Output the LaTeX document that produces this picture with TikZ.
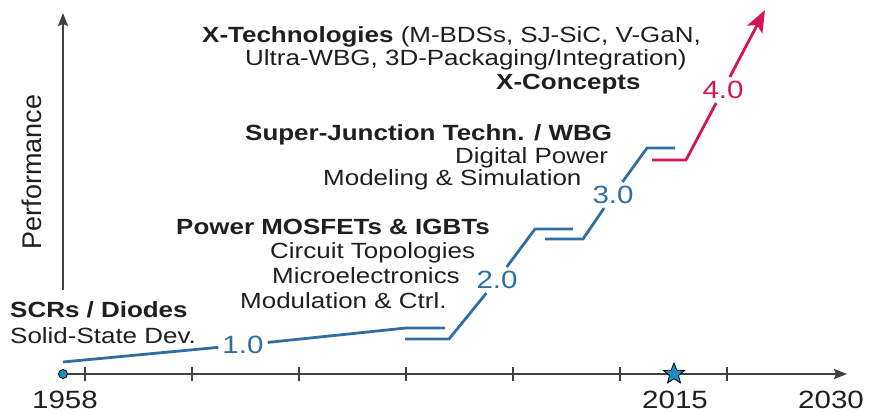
\documentclass[tikz,border=0pt]{standalone}
\usepackage{fontspec}
\setmainfont{Liberation Sans}[FakeStretch=1.18]
\newfontfamily\perffont{Liberation Sans}
\usetikzlibrary{arrows.meta,shapes.geometric}

\definecolor{genblue}{HTML}{2F6EA5}
\definecolor{genred}{HTML}{D4145A}
\definecolor{markblue}{HTML}{1F8DC4}
\definecolor{axisgray}{HTML}{404040}

\begin{document}
\begin{tikzpicture}[
  x=1pt,y=-1pt,
  lbl/.style={anchor=base west, inner sep=0pt, font=\fontsize{22}{24}\selectfont, text=black!88},
  hdr/.style={lbl, font=\fontsize{22}{24}\selectfont\bfseries},
  ver/.style={inner sep=4pt, font=\fontsize{25}{27}\selectfont, text=genblue},
  yr/.style={anchor=base, inner sep=0pt, font=\fontsize{25}{27}\selectfont, text=black!88},
  axis/.style={-{Stealth[length=13pt,width=10pt,inset=2pt]}, line width=1.8pt, axisgray},
  tick/.style={line width=1.5pt, axisgray},
  gen/.style={line width=2.8pt, genblue},
  genr/.style={line width=2.8pt, genred, -{Stealth[length=22pt,width=17pt,inset=5pt]}},
  seedmark/.style={circle, minimum size=9pt, inner sep=0pt, fill=markblue, draw=black, line width=0.8pt},
  starmark/.style={star, star points=5, star point ratio=2.3, minimum size=22pt, inner sep=0pt, fill=markblue, draw=black, line width=0.8pt}
]
\useasboundingbox (0,0) rectangle (869,412);

% axes
\node[seedmark] (seed) at (63,374) {};
\coordinate (tend) at (847,374);
\coordinate (ybase) at (63,290);
\coordinate (ytop) at (63,13);
\draw[axis] (seed) -- (tend);
\draw[axis] (ybase) -- (ytop);
\foreach \x in {85,192,...,727} \draw[tick] (\x,367) -- (\x,381);
\node[starmark] (now) at (674,374) {};
\node[yr] (y1958) at (65,408) {1958};
\node[yr] (y2015) at (675,408) {2015};
\node[yr] (y2030) at (831,408) {2030};
\node[rotate=90, inner sep=0pt, font=\perffont\fontsize{27}{30}\selectfont, text=black!88] (perf) at (32,172) {Performance};

% generations
\coordinate (s0) at (63,362);
\node[ver] (v1) at (243,345) {1.0};
\coordinate (a1) at (406,328); \coordinate (b1) at (445,328);
\coordinate (c1) at (405,339); \coordinate (d1) at (449,339);
\node[ver] (v2) at (497,280) {2.0};
\coordinate (a2) at (535,229); \coordinate (b2) at (573,229);
\coordinate (c2) at (545,239); \coordinate (d2) at (583,239);
\node[ver] (v3) at (613,195) {3.0};
\coordinate (a3) at (647,148); \coordinate (b3) at (675,148);
\coordinate (c3) at (652,160); \coordinate (d3) at (686,160);
\node[ver, text=genred] (v4) at (723,90) {4.0};
\coordinate (tip) at (765,10);
\draw[gen] (s0) -- (v1) -- (a1) -- (b1);
\draw[gen] (c1) -- (d1) -- (v2) -- (a2) -- (b2);
\draw[gen] (c2) -- (d2) -- (v3) -- (a3) -- (b3);
\draw[genr] (c3) -- (d3) -- (v4) -- (tip);

% labels
\node[hdr] (scr) at (10,317) {SCRs / Diodes};
\node[lbl] (ssd) at (10,343) {Solid-State Dev.};
\node[hdr] (mos) at (176,234) {Power MOSFETs \& IGBTs};
\node[lbl] (topo) at (270,258) {Circuit Topologies};
\node[lbl] (micro) at (272,283) {Microelectronics};
\node[lbl] (modul) at (240,308) {Modulation \& Ctrl.};
\node[hdr] (sj) at (245,140) {Super-Junction Techn. / WBG};
\node[lbl] (digi) at (455,163) {Digital Power};
\node[lbl] (simu) at (323,185) {Modeling \& Simulation};
\node[lbl] (xtech) at (202,43) {\textbf{X-Technologies} (M-BDSs, SJ-SiC, V-GaN,};
\node[lbl] (ultra) at (245,66) {Ultra-WBG, 3D-Packaging/Integration)};
\node[hdr] (xcon) at (496,89) {X-Concepts};
\end{tikzpicture}
\end{document}
